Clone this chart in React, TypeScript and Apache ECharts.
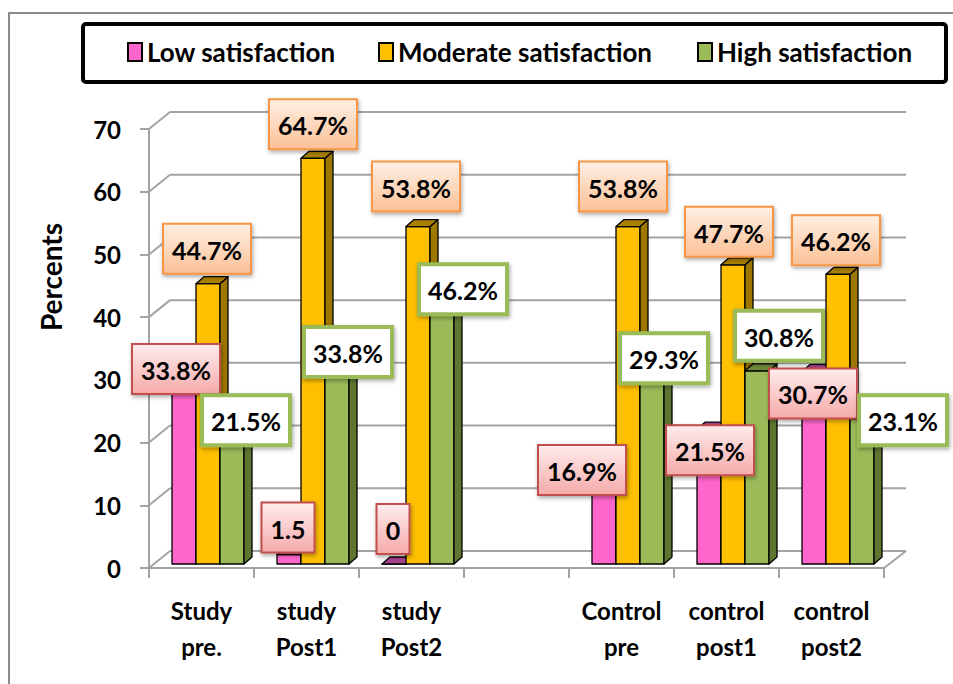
import React, { useEffect, useRef } from "react";
import * as echarts from "echarts";

// ---- data -------------------------------------------------------------
const categories = [
  "Study\npre.",
  "study\nPost1",
  "study\nPost2",
  "",
  "Control\npre",
  "control\npost1",
  "control\npost2",
];
const seriesNames = ["Low satisfaction", "Moderate satisfaction", "High satisfaction"];
const lowValues = [33.8, 1.5, 0, null, 16.9, 21.5, 30.7];
const moderateValues = [44.7, 64.7, 53.8, null, 53.8, 47.7, 46.2];
const highValues = [21.5, 33.8, 46.2, null, 29.3, 30.8, 23.1];
const yTicks = [0, 10, 20, 30, 40, 50, 60, 70];
// whether the data label carries a percent sign
const lowPercentSign = [true, false, false, null, true, true, true];
const moderatePercentSign = [true, true, true, null, true, true, true];
const highPercentSign = [true, true, true, null, true, true, true];

// ---- label placement relative to the top of each bar ----------------
const lowLabelOffsets = [[-8, 17], [-1, -27], [-1, -35], null, [-22, 12], [1, 21], [-1, 22]];
const moderateLabelOffsets = [[-1, -35], [0, -34], [-2, -40], null, [-5, -40], [-4, -33], [-2, -34]];
const highLabelOffsets = [[14, -9], [11, 0], [21, 15], null, [12, -22], [22, -35], [41, 1]];

// ---- styling ----------------------------------------------------------
const FONT = "Lato";
const LABEL_SIZE = 25;
const GRID_COLOR = "#A3A3A3";
const BAR_RATIO = 24 / 105;
const GROUP_START = 23 / 105;
const PLANE_DY = -4;
const DEPTH_X = 8;
const DEPTH_Y = 7;
const WALL_DX = 21;
const WALL_DY = 17;

const STYLES = [
  { front: "#FF66CC", side: "#B4479B", top: "#A8418F", stroke: "#C0504D", fill: ["#FFECEC", "#F5AAAA"], lw: 2 },
  { front: "#FFC000", side: "#9E7700", top: "#A98000", stroke: "#F79646", fill: ["#FFF0E4", "#FBC096"], lw: 2 },
  { front: "#9BBB59", side: "#5F7633", top: "#6E8A3B", stroke: "#9BBB59", fill: ["#FFFFFF", "#FFFFFF"], lw: 4 },
];

const valueSets = [lowValues, moderateValues, highValues];
const percentSets = [lowPercentSign, moderatePercentSign, highPercentSign];
const offsetSets = [lowLabelOffsets, moderateLabelOffsets, highLabelOffsets];

let measureCtx: CanvasRenderingContext2D | null = null;
function textWidth(s: string): number {
  if (!measureCtx) measureCtx = document.createElement("canvas").getContext("2d");
  if (!measureCtx) return s.length * 13;
  measureCtx.font = `bold ${LABEL_SIZE}px ${FONT}`;
  return measureCtx.measureText(s).width;
}

function barGeometry(api: any, ci: number, v: number, si: number) {
  const band = api.size([1, 0])[0];
  const [cx, yTop] = api.coord([ci, v]);
  const yBase = api.coord([ci, 0])[1];
  const bw = band * BAR_RATIO;
  const left = cx - band / 2 + band * GROUP_START + bw * si;
  return { left, bw, top: yTop + PLANE_DY, bottom: yBase + PLANE_DY };
}

function seriesData(values: (number | null)[]) {
  const out: number[][] = [];
  values.forEach((v, i) => {
    if (v !== null) out.push([i, v]);
  });
  return out;
}

function barSeries(si: number) {
  const st = STYLES[si];
  return {
    type: "custom",
    name: seriesNames[si],
    coordinateSystem: "cartesian2d",
    z: 2,
    itemStyle: { color: st.front },
    encode: { x: 0, y: 1 },
    data: seriesData(valueSets[si]),
    renderItem: (params: any, api: any) => {
      const ci = api.value(0);
      const v = api.value(1);
      const g = barGeometry(api, ci, v, si);
      const L = g.left, R = g.left + g.bw, T = g.top, B = g.bottom;
      const line = { stroke: "#000", lineWidth: 1.3, lineJoin: "round" };
      return {
        type: "group",
        children: [
          {
            type: "polygon",
            shape: { points: [[L, T], [R, T], [R, B], [L, B]] },
            style: { fill: st.front, ...line },
          },
          {
            type: "polygon",
            shape: { points: [[R, T], [R + DEPTH_X, T - DEPTH_Y], [R + DEPTH_X, B - DEPTH_Y], [R, B]] },
            style: { fill: st.side, ...line },
          },
          {
            type: "polygon",
            shape: { points: [[L, T], [L + DEPTH_X, T - DEPTH_Y], [R + DEPTH_X, T - DEPTH_Y], [R, T]] },
            style: { fill: st.top, ...line },
          },
        ],
      };
    },
  };
}

function labelSeries(si: number) {
  const st = STYLES[si];
  return {
    type: "custom",
    name: seriesNames[si] + " labels",
    coordinateSystem: "cartesian2d",
    z: 3,
    encode: { x: 0, y: 1 },
    data: seriesData(valueSets[si]),
    renderItem: (params: any, api: any) => {
      const ci = api.value(0);
      const v = api.value(1);
      const g = barGeometry(api, ci, v, si);
      const off = offsetSets[si][ci] || [0, -30];
      const cx = g.left + g.bw / 2 + off[0];
      const cy = g.top + off[1];
      const text = String(v) + (percentSets[si][ci] ? "%" : "");
      const w = Math.round(textWidth(text) + 18);
      const h = 50;
      return {
        type: "group",
        children: [
          {
            type: "rect",
            shape: { x: cx - w / 2, y: cy - h / 2, width: w, height: h },
            style: {
              fill: new echarts.graphic.LinearGradient(0, 0, 0, 1, [
                { offset: 0, color: st.fill[0] },
                { offset: 1, color: st.fill[1] },
              ]),
              stroke: st.stroke,
              lineWidth: st.lw,
              shadowBlur: 4,
              shadowOffsetX: 1,
              shadowOffsetY: 2,
              shadowColor: "rgba(0,0,0,0.35)",
            },
          },
          {
            type: "text",
            style: {
              text,
              x: cx,
              y: cy + 1,
              align: "center",
              verticalAlign: "middle",
              textAlign: "center",
              textVerticalAlign: "middle",
              font: `bold ${LABEL_SIZE}px ${FONT}`,
              fill: "#000",
            },
          },
        ],
      };
    },
  };
}

// back wall, left wall and floor outline
const wallSeries = {
  type: "custom",
  name: "wall",
  coordinateSystem: "cartesian2d",
  z: 1,
  silent: true,
  encode: { x: 0, y: 1 },
  data: yTicks.map((t) => [0, t]),
  renderItem: (params: any, api: any) => {
    const cs = params.coordSys;
    const v = api.value(1);
    const y = api.coord([0, v])[1];
    const x0 = cs.x;
    const x1 = cs.x + cs.width;
    const by = y - WALL_DY;
    const style = { stroke: GRID_COLOR, lineWidth: 2 };
    const children: any[] = [
      { type: "line", shape: { x1: x0, y1: y, x2: x0 + WALL_DX, y2: by }, style },
      { type: "line", shape: { x1: x0 + WALL_DX, y1: by, x2: x1 + WALL_DX + 1, y2: by }, style },
    ];
    if (v === 0) {
      children.push({ type: "line", shape: { x1: x1, y1: y, x2: x1 + WALL_DX + 1, y2: by }, style });
    }
    return { type: "group", children };
  },
};

const legendLefts = [127, 378, 697];

export default function App() {
  const ref = useRef<HTMLDivElement>(null);

  useEffect(() => {
    if (!ref.current) return;
    const chart = echarts.init(ref.current, undefined, { renderer: "svg" });
    chart.setOption({
      animation: false,
      backgroundColor: "#ffffff",
      grid: { left: 149, top: 129, width: 735, height: 439 },
      xAxis: {
        type: "category",
        data: categories,
        axisLine: { lineStyle: { color: GRID_COLOR, width: 2 } },
        axisTick: { show: true, interval: 0, length: 10, lineStyle: { color: GRID_COLOR, width: 2 } },
        axisLabel: {
          interval: 0,
          margin: 24,
          color: "#000",
          fontFamily: FONT,
          fontWeight: "bold",
          fontSize: 24,
          lineHeight: 36,
        },
        splitLine: { show: false },
      },
      yAxis: {
        type: "value",
        min: 0,
        max: 70,
        interval: 10,
        axisLine: { show: true, lineStyle: { color: GRID_COLOR, width: 2 } },
        axisTick: { show: true, length: 9, lineStyle: { color: GRID_COLOR, width: 2 } },
        axisLabel: {
          margin: 28,
          color: "#000",
          fontFamily: FONT,
          fontWeight: "bold",
          fontSize: 24,
        },
        splitLine: { show: false },
      },
      legend: seriesNames.map((n, i) => ({
        data: [n],
        left: legendLefts[i],
        top: 39,
        padding: 0,
        icon: "rect",
        itemWidth: 14,
        itemHeight: 18,
        itemStyle: { borderColor: "#000", borderWidth: 2 },
        selectedMode: false,
        textStyle: { color: "#000", fontFamily: FONT, fontWeight: "bold", fontSize: 26 },
      })),
      graphic: [
        {
          type: "rect",
          z: -10,
          shape: { x: 9, y: 13, width: 1000, height: 700 },
          style: { fill: "none", stroke: "#8C8C8C", lineWidth: 2 },
        },
        {
          type: "rect",
          z: -5,
          shape: { x: 83, y: 24, width: 863, height: 58, r: 3 },
          style: { fill: "#fff", stroke: "#000", lineWidth: 4 },
        },
        {
          type: "text",
          x: 51,
          y: 277,
          rotation: Math.PI / 2,
          style: {
            text: "Percents",
            align: "center",
            verticalAlign: "middle",
            textAlign: "center",
            textVerticalAlign: "middle",
            font: `bold 28px ${FONT}`,
            fill: "#000",
          },
        },
      ],
      series: [
        wallSeries,
        barSeries(0),
        barSeries(1),
        barSeries(2),
        labelSeries(0),
        labelSeries(1),
        labelSeries(2),
      ],
    });
    return () => chart.dispose();
  }, []);

  return (
    <div
      ref={ref}
      style={{ position: "fixed", left: 0, top: 0, width: 953, height: 684, background: "#fff" }}
    />
  );
}
